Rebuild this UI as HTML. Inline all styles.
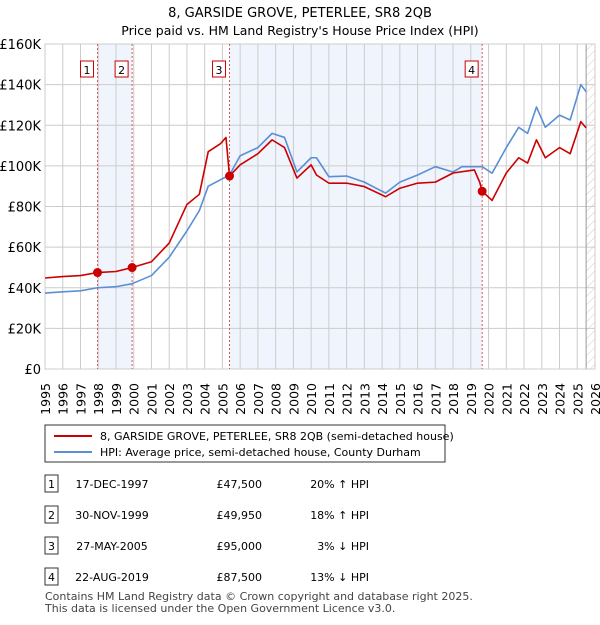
<!DOCTYPE html>
<html><head><meta charset="utf-8"><style>
body{margin:0;background:#fff;font-family:"Liberation Sans","DejaVu Sans",sans-serif;color:#222}
svg text{font-family:"DejaVu Sans","Liberation Sans",sans-serif}
</style></head><body>
<svg id="c" width="600" height="620" xmlns="http://www.w3.org/2000/svg">
<text x="300" y="17" text-anchor="middle" font-size="13">8, GARSIDE GROVE, PETERLEE, SR8 2QB</text>
<text x="300" y="35" text-anchor="middle" font-size="12.5">Price paid vs. HM Land Registry's House Price Index (HPI)</text>
<defs><pattern id="h" width="6" height="6" patternUnits="userSpaceOnUse" patternTransform="rotate(45)"><line x1="0" y1="0" x2="0" y2="6" stroke="#ccc" stroke-width="1"/></pattern></defs>
<g id="plot"></g>
<g>
<rect x="45" y="425" width="400" height="37" fill="#fff" stroke="#333" stroke-width="1"/>
<line x1="54" y1="436" x2="92" y2="436" stroke="#cc0000" stroke-width="2"/>
<text x="100" y="440" font-size="11">8, GARSIDE GROVE, PETERLEE, SR8 2QB (semi-detached house)</text>
<line x1="54" y1="452" x2="92" y2="452" stroke="#5b8fd4" stroke-width="2"/>
<text x="100" y="456" font-size="11">HPI: Average price, semi-detached house, County Durham</text>
</g>
<g id="tbl" font-size="11"></g>
<text x="45" y="600" font-size="11" fill="#444">Contains HM Land Registry data © Crown copyright and database right 2025.</text>
<text x="45" y="612" font-size="11" fill="#444">This data is licensed under the Open Government Licence v3.0.</text>
</svg>
<script>
const hpiYears=[1995,1996,1997,1997.96,1999,1999.91,2001,2002,2003,2003.7,2004.2,2005.4,2006,2007,2007.8,2008.5,2009.2,2010,2010.3,2011,2012,2013,2014.2,2015,2016,2017,2018,2018.5,2019.64,2020.2,2021,2021.7,2022.2,2022.7,2023.2,2024,2024.6,2025.2,2025.5];
const hpiValues=[37.4,38,38.5,40,40.5,42,46,55,68,78,90,95.5,105,109,116,114,97,104,104,94.7,95,92,86.6,92,95.5,99.6,97,99.6,99.6,96.4,109,119,116,129,119,125,122.6,140,136.5];
const priceYears=[1995,1996,1997,1997.96,1999,1999.91,2001,2002,2003,2003.7,2004.2,2004.9,2005.2,2005.4,2006,2007,2007.8,2008.5,2009.2,2010,2010.3,2011,2012,2013,2014.2,2015,2016,2017,2018,2019.2,2019.5,2019.64,2020.2,2021,2021.7,2022.2,2022.7,2023.2,2024,2024.6,2025.2,2025.5];
const priceValues=[44.8,45.5,46,47.5,48,49.95,52.8,62,81,86,107,111,114,95,100.5,106,112.8,109,94,100.5,95.5,91.5,91.5,89.8,84.8,89,91.5,92,96.5,98,92,87.5,83,96.5,104,101.4,112.8,104,109,106,121.8,118.7];
const saleYears=[1997.96,1999.91,2005.4,2019.64];
const saleValues=[47.5,49.95,95,87.5];
const saleLabels=["1","2","3","4"];
const saleDates=["17-DEC-1997","30-NOV-1999","27-MAY-2005","22-AUG-2019"];
const salePrices=["£47,500","£49,950","£95,000","£87,500"];
const saleHpi=["20% ↑ HPI","18% ↑ HPI","3% ↓ HPI","13% ↓ HPI"];
const yTicks=[0,20,40,60,80,100,120,140,160];
const yTickLabels=["£0","£20K","£40K","£60K","£80K","£100K","£120K","£140K","£160K"];
const xTicks=[1995,1996,1997,1998,1999,2000,2001,2002,2003,2004,2005,2006,2007,2008,2009,2010,2011,2012,2013,2014,2015,2016,2017,2018,2019,2020,2021,2022,2023,2024,2025,2026];
const L=45,R=595,T=44,B=369;
const x=y=>L+(y-1995)*(R-L)/31;
const yv=v=>B-v*(B-T)/160;
const NS="http://www.w3.org/2000/svg";
const g=document.getElementById('plot');
function mk(t,a,p){const e=document.createElementNS(NS,t);for(const k in a)e.setAttribute(k,a[k]);(p||g).appendChild(e);return e;}
let b=mk('rect',{x:x(saleYears[0]),y:T,width:x(saleYears[1])-x(saleYears[0]),height:B-T,fill:'#f0f4fc'});


b=mk('rect',{x:x(saleYears[2]),y:T,width:x(saleYears[3])-x(saleYears[2]),height:B-T,fill:'#f0f4fc'});


b=mk('rect',{x:x(2025.5),y:T,width:R-x(2025.5),height:B-T,fill:'url(#h)'});


yTicks.forEach((v,i)=>{mk('line',{x1:L,x2:R,y1:yv(v),y2:yv(v),stroke:'#ccc'});
const t=mk('text',{x:L-4,y:yv(v)+5,'text-anchor':'end','font-size':13});t.textContent=yTickLabels[i];

});
xTicks.forEach(v=>{mk('line',{x1:x(v),x2:x(v),y1:T,y2:B,stroke:'#ccc'});
const t=mk('text',{x:x(v)+5,y:383,'text-anchor':'end','font-size':12.5,transform:'rotate(-90 '+(x(v)+5)+' 383)'});t.textContent=v;

});
mk('line',{x1:x(2025.5),y1:T,x2:x(2025.5),y2:B,stroke:'#999'});
mk('rect',{x:L,y:T,width:R-L,height:B-T,fill:'none',stroke:'#ccc'});
saleYears.forEach((s,i)=>{mk('line',{x1:x(s),x2:x(s),y1:T,y2:B,stroke:'#e05555','stroke-dasharray':'2,2'});
const r=mk('rect',{x:x(s)-17,y:61,width:13,height:16,fill:'#fff',stroke:'#cc0000'});


const t=mk('text',{x:x(s)-10.5,y:74,'text-anchor':'middle','font-size':11});t.textContent=saleLabels[i];});
function line(xs,vs,c,n){const p=mk('polyline',{points:xs.map((a,i)=>x(a)+','+yv(vs[i])).join(' '),fill:'none',stroke:c,'stroke-width':1.6,'stroke-linejoin':'round'});

}
line(hpiYears,hpiValues,'#5b8fd4','hpi-line');
line(priceYears,priceValues,'#cc0000','price-line');
saleYears.forEach((s,i)=>{const c=mk('circle',{cx:x(s),cy:yv(saleValues[i]),r:4.5,fill:'#cc0000'});

});
const tb=document.getElementById('tbl');const rowsY=[484,515,546,577];
saleLabels.forEach((l,i)=>{const y=rowsY[i];
const r=mk('rect',{x:45,y:y-9,width:13,height:17,fill:'#fff',stroke:'#333'},tb);


let t=mk('text',{x:51.5,y:y+4,'text-anchor':'middle'},tb);t.textContent=l;
t=mk('text',{x:112,y:y+4,'text-anchor':'middle'},tb);t.textContent=saleDates[i];


t=mk('text',{x:262,y:y+4,'text-anchor':'end'},tb);t.textContent=salePrices[i];


t=mk('text',{x:369,y:y+4,'text-anchor':'end'},tb);t.textContent=saleHpi[i];

});
</script>
</body></html>
